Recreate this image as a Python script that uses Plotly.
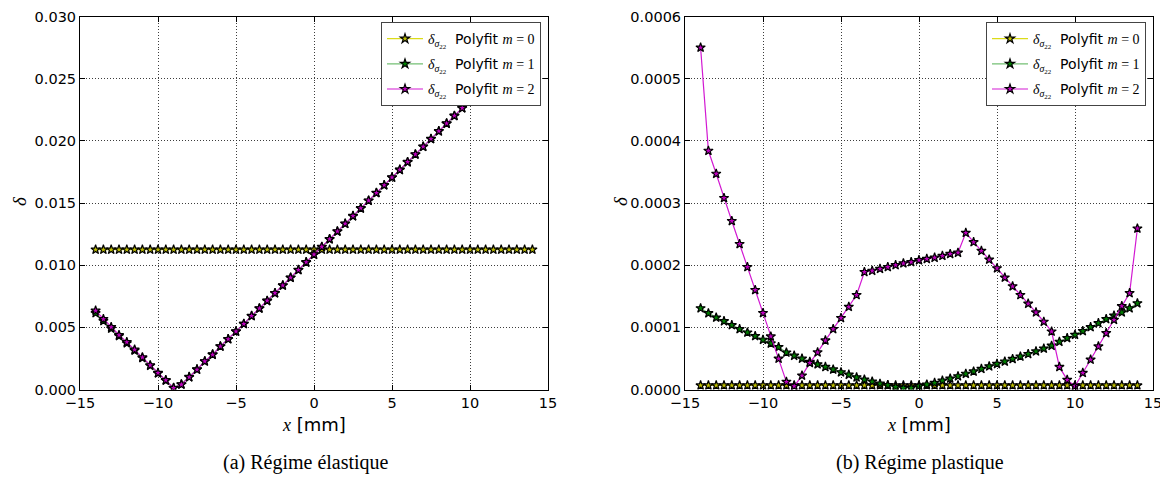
import plotly.graph_objects as go

x_mm = [-14.0, -13.5, -13.0, -12.5, -12.0, -11.5, -11.0, -10.5, -10.0, -9.5,
        -9.0, -8.5, -8.0, -7.5, -7.0, -6.5, -6.0, -5.5, -5.0, -4.5,
        -4.0, -3.5, -3.0, -2.5, -2.0, -1.5, -1.0, -0.5, 0.0, 0.5,
        1.0, 1.5, 2.0, 2.5, 3.0, 3.5, 4.0, 4.5, 5.0, 5.5,
        6.0, 6.5, 7.0, 7.5, 8.0, 8.5, 9.0, 9.5, 10.0, 10.5,
        11.0, 11.5, 12.0, 12.5, 13.0, 13.5, 14.0]

# tick values / labels
x_ticks = [-15, -10, -5, 0, 5, 10, 15]
elast_yticks = [0.000, 0.005, 0.010, 0.015, 0.020, 0.025, 0.030]
elast_ytext = ["0.000", "0.005", "0.010", "0.015", "0.020", "0.025", "0.030"]
plast_yticks = [0.0000, 0.0001, 0.0002, 0.0003, 0.0004, 0.0005, 0.0006]
plast_ytext = ["0.0000", "0.0001", "0.0002", "0.0003", "0.0004", "0.0005", "0.0006"]

# (a) elastic regime
elast_m0 = [0.01125, 0.01125, 0.01125, 0.01125, 0.01125, 0.01125, 0.01125, 0.01125, 0.01125, 0.01125,
            0.01125, 0.01125, 0.01125, 0.01125, 0.01125, 0.01125, 0.01125, 0.01125, 0.01125, 0.01125,
            0.01125, 0.01125, 0.01125, 0.01125, 0.01125, 0.01125, 0.01125, 0.01125, 0.01125, 0.01125,
            0.01125, 0.01125, 0.01125, 0.01125, 0.01125, 0.01125, 0.01125, 0.01125, 0.01125, 0.01125,
            0.01125, 0.01125, 0.01125, 0.01125, 0.01125, 0.01125, 0.01125, 0.01125, 0.01125, 0.01125,
            0.01125, 0.01125, 0.01125, 0.01125, 0.01125, 0.01125, 0.01125]
elast_m1 = [0.00614, 0.00551, 0.00490, 0.00430, 0.00372, 0.00313, 0.00253, 0.00191, 0.00130, 0.00072,
            0.00012, 0.00042, 0.00101, 0.00162, 0.00226, 0.00282, 0.00346, 0.00405, 0.00466, 0.00527,
            0.00590, 0.00651, 0.00712, 0.00774, 0.00836, 0.00898, 0.00960, 0.01022, 0.01084, 0.01146,
            0.01208, 0.01270, 0.01332, 0.01394, 0.01456, 0.01518, 0.01580, 0.01642, 0.01704, 0.01766,
            0.01828, 0.01890, 0.01952, 0.02014, 0.02076, 0.02138, 0.02200, 0.02262, 0.02324, 0.02386,
            0.02448, 0.02510, 0.02572, 0.02634, 0.02696, 0.02758, 0.02820]
elast_m2 = [0.00634, 0.00566, 0.00502, 0.00438, 0.00381, 0.00320, 0.00259, 0.00195, 0.00133, 0.00075,
            0.00013, 0.00040, 0.00099, 0.00160, 0.00227, 0.00280, 0.00347, 0.00405, 0.00467, 0.00528,
            0.00592, 0.00653, 0.00714, 0.00776, 0.00838, 0.00900, 0.00962, 0.01024, 0.01086, 0.01148,
            0.01210, 0.01272, 0.01334, 0.01396, 0.01458, 0.01520, 0.01582, 0.01644, 0.01706, 0.01768,
            0.01830, 0.01892, 0.01954, 0.02016, 0.02078, 0.02140, 0.02202, 0.02264, 0.02326, 0.02388,
            0.02450, 0.02512, 0.02574, 0.02636, 0.02698, 0.02760, 0.02822]

# (b) plastic regime
plast_m0 = [0.0000065, 0.0000065, 0.0000065, 0.0000065, 0.0000065, 0.0000065, 0.0000065, 0.0000065, 0.0000065, 0.0000065,
            0.0000065, 0.0000065, 0.0000065, 0.0000065, 0.0000065, 0.0000065, 0.0000065, 0.0000065, 0.0000065, 0.0000065,
            0.0000065, 0.0000065, 0.0000065, 0.0000065, 0.0000065, 0.0000065, 0.0000065, 0.0000065, 0.0000065, 0.0000065,
            0.0000065, 0.0000065, 0.0000065, 0.0000065, 0.0000065, 0.0000065, 0.0000065, 0.0000065, 0.0000065, 0.0000065,
            0.0000065, 0.0000065, 0.0000065, 0.0000065, 0.0000065, 0.0000065, 0.0000065, 0.0000065, 0.0000065, 0.0000065,
            0.0000065, 0.0000065, 0.0000065, 0.0000065, 0.0000065, 0.0000065, 0.0000065]
plast_m1 = [0.0001307, 0.0001227, 0.0001157, 0.0001099, 0.0001035, 0.0000971, 0.0000917, 0.0000859, 0.0000800, 0.0000741,
            0.0000683, 0.0000595, 0.0000544, 0.0000496, 0.0000443, 0.0000405, 0.0000363, 0.0000322, 0.0000277, 0.0000238,
            0.0000195, 0.0000160, 0.0000128, 0.0000093, 0.0000069, 0.0000042, 0.0000025, 0.0000027, 0.0000053, 0.0000080,
            0.0000107, 0.0000142, 0.0000176, 0.0000213, 0.0000253, 0.0000290, 0.0000331, 0.0000372, 0.0000411, 0.0000450,
            0.0000491, 0.0000531, 0.0000571, 0.0000613, 0.0000658, 0.0000704, 0.0000768, 0.0000827, 0.0000880, 0.0000939,
            0.0001003, 0.0001067, 0.0001132, 0.0001189, 0.0001240, 0.0001307, 0.0001387]
plast_m2 = [0.000550, 0.000384, 0.000347, 0.000308, 0.000271, 0.000234, 0.000197, 0.000160, 0.000123, 0.0000853,
            0.0000496, 0.0000123, 0.0000053, 0.0000224, 0.0000427, 0.0000597, 0.0000789, 0.0000971, 0.000115, 0.000133,
            0.000152, 0.000189, 0.000191, 0.000194, 0.000197, 0.000200, 0.000203, 0.000205, 0.000208, 0.000210,
            0.000212, 0.000215, 0.000218, 0.000220, 0.000252, 0.000237, 0.000223, 0.000209, 0.000195, 0.000180,
            0.000166, 0.000152, 0.000138, 0.000124, 0.000109, 0.0000933, 0.0000363, 0.0000155, 0.0000053, 0.0000267,
            0.0000480, 0.0000693, 0.0000907, 0.000112, 0.000134, 0.000155, 0.000259]

series_m = ["0", "1", "2"]
line_colors = ["rgba(215,215,0,0.9)", "rgba(0,140,0,0.55)", "rgba(205,0,205,0.9)"]
marker_colors = ["#bfbf00", "#008000", "#bf00bf"]

# page body has an 8px margin: figure is drawn 8px right/down of the window origin
OFF = 8
W, H = 1160, 469
SERIF = "Liberation Serif"
SANS = "DejaVu Sans"


def legend_label(m):
    return ("<span style='font-family:Liberation Serif'><i>δ</i><sub><i>σ</i><sub>22</sub></sub></span>"
            "  Polyfit <span style='font-family:Liberation Serif'><i>m</i> = " + m + "</span>")


fig = go.Figure()
panels = [
    ([elast_m0, elast_m1, elast_m2], "x", "y", "legend", "a"),
    ([plast_m0, plast_m1, plast_m2], "x2", "y2", "legend2", "b"),
]
for data, xa, ya, lg, tag in panels:
    for i, ys in enumerate(data):
        fig.add_trace(go.Scatter(
            x=x_mm, y=ys, xaxis=xa, yaxis=ya, legend=lg,
            legendgroup=tag + series_m[i],
            mode="lines+markers",
            name=legend_label(series_m[i]),
            line=dict(color=line_colors[i], width=1.2),
            marker=dict(symbol="star", size=7, color=marker_colors[i],
                        line=dict(color="black", width=1.2)),
        ))


def px(p):
    return (p - OFF) / W


def py(p):
    return 1 - (p - OFF) / H


axis_common = dict(
    showline=True, linecolor="black", linewidth=1, mirror="ticks",
    ticks="inside", ticklen=5, tickwidth=1, tickcolor="black",
    showgrid=True, gridcolor="rgba(40,40,40,0.9)", griddash="1px,2px", gridwidth=1,
    zeroline=False, automargin=False, ticklabeloverflow="allow",
    tickfont=dict(family=SANS, size=14.5, color="black"),
)

legend_common = dict(
    xanchor="right", yanchor="top",
    bgcolor="white", bordercolor="#444", borderwidth=1,
    font=dict(family=SANS, size=14, color="black"), itemwidth=36,
    tracegroupgap=4,
)

TOP, BOT = 16.5, 389.5

fig.update_layout(
    width=W, height=H,
    margin=dict(l=0, r=0, t=0, b=0, autoexpand=False),
    paper_bgcolor="white", plot_bgcolor="white",
    showlegend=True,
    xaxis=dict(domain=[px(80), px(548)], range=[-15, 15], tickvals=x_ticks, anchor="y", **axis_common),
    yaxis=dict(domain=[py(BOT), py(TOP)], range=[0, 0.030], tickvals=elast_yticks, ticktext=elast_ytext,
               anchor="x", **axis_common),
    xaxis2=dict(domain=[px(685), px(1153)], range=[-15, 15], tickvals=x_ticks, anchor="y2", **axis_common),
    yaxis2=dict(domain=[py(BOT), py(TOP)], range=[0, 0.0006], tickvals=plast_yticks, ticktext=plast_ytext,
                anchor="x2", **axis_common),
    legend=dict(x=px(541), y=py(22), **legend_common),
    legend2=dict(x=px(1146), y=py(22), **legend_common),
)

ann = []
base = dict(xref="paper", yref="paper", showarrow=False, xanchor="center", yanchor="middle")
for cx in [314, 919]:
    ann.append(dict(x=px(cx), y=py(424),
                    text="<span style='font-family:Liberation Serif'><i>x</i></span> [mm]",
                    font=dict(family=SANS, size=18, color="black"), **base))
for cx in [19, 620]:
    ann.append(dict(x=px(cx), y=py(201), text="<i>δ</i>", textangle=-90,
                    font=dict(family=SERIF, size=19, color="black"), **base))
ann.append(dict(x=px(306), y=py(462), text="(a) Régime élastique",
                font=dict(family=SERIF, size=20, color="black"), **base))
ann.append(dict(x=px(920), y=py(462), text="(b) Régime plastique",
                font=dict(family=SERIF, size=20, color="black"), **base))
fig.update_layout(annotations=ann)

fig.write_html("out.html")
